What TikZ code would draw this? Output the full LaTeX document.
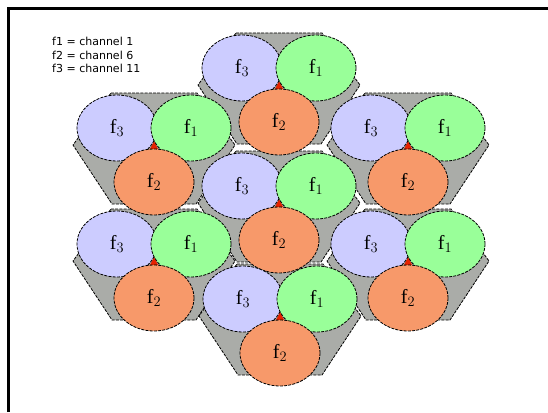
\documentclass[tikz,border=0pt]{standalone}
\usepackage{fontspec}
\setmainfont{Liberation Serif}
\newfontfamily\legendfont{DejaVu Sans}
\usepackage{tikz}
\usetikzlibrary{shapes.geometric}
\definecolor{chlav}{HTML}{CCCCFF}
\definecolor{chgreen}{HTML}{99FF99}
\definecolor{chorange}{HTML}{F7996A}
\definecolor{bggray}{HTML}{AAACA8}
\definecolor{gapred}{HTML}{E62200}
\tikzset{
  cellbox/.style={
    ellipse, draw=black, fill=#1, line width=0.8pt,
    dash pattern=on 3pt off 1.2pt,
    minimum width=80pt, minimum height=66pt,
    inner sep=0pt, font=\fontsize{20}{22}\selectfont
  },
  cellbox/.default=chlav,
  clusterbg/.style={
    fill=bggray, draw=black, line width=0.8pt,
    dash pattern=on 3pt off 1.2pt
  },
  gapmark/.style={fill=gapred},
  legendtext/.style={
    font=\legendfont\fontsize{11}{13.5}\selectfont,
    align=left, anchor=north west, inner sep=0pt
  },
}

\begin{document}
\begin{tikzpicture}[x=1pt, y=-1pt]
  \useasboundingbox (0,0) rectangle (548,412);

  % Frame
  \draw[line width=3pt] (8,412) -- (8,8.5) -- (548,8.5);

  % Key
  \node[legendtext] (key) at (52,37) {f1 = channel 1\\f2 = channel 6\\f3 = channel 11};

  % Cluster backgrounds
  \foreach \cx/\cy in {279/68, 154/128, 408/128, 279/186, 154/244, 408/244, 280/299}
    \filldraw[clusterbg] (\cx-43,\cy-35) -- (\cx+43,\cy-35) -- (\cx+81,\cy+17)
      -- (\cx+42,\cy+76) -- (\cx-42,\cy+76) -- (\cx-81,\cy+17) -- cycle;

  % Cells
  \foreach \cx/\cy/\k in {279/68/t, 154/128/ul, 408/128/ur, 279/186/c,
                          154/244/ll, 408/244/lr, 280/299/b} {
    \fill[gapmark] (\cx-4,\cy+21) -- (\cx+4,\cy+21) -- (\cx,\cy+13) -- cycle;
    \node[cellbox=chlav] (f3\k) at (\cx-37,\cy) {f$_3$};
    \node[cellbox=chgreen] (f1\k) at (\cx+37,\cy) {f$_1$};
    \node[cellbox=chorange] (f2\k) at (\cx,\cy+54) {f$_2$};
  }
\end{tikzpicture}
\end{document}
